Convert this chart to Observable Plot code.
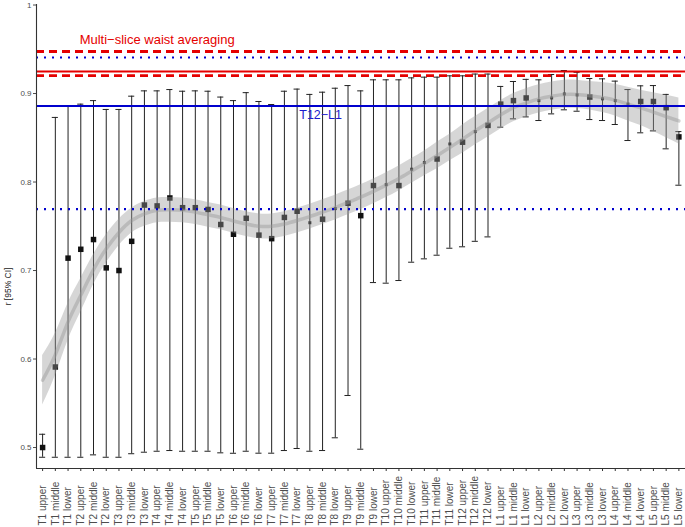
<!DOCTYPE html>
<html>
<head>
<meta charset="utf-8">
<script src="https://cdn.jsdelivr.net/npm/d3@7"></script>
<script src="https://cdn.jsdelivr.net/npm/@observablehq/plot@0.6"></script>
<style>
  html, body { margin: 0; padding: 0; background: #fff; }
</style>
</head>
<body>
<div id="chart"></div>
<script>
// ---- data ----
const levels = ["T1 upper","T1 middle","T1 lower","T2 upper","T2 middle","T2 lower","T3 upper","T3 middle","T3 lower",
  "T4 upper","T4 middle","T4 lower","T5 upper","T5 middle","T5 lower","T6 upper","T6 middle","T6 lower",
  "T7 upper","T7 middle","T7 lower","T8 upper","T8 middle","T8 lower","T9 upper","T9 middle","T9 lower",
  "T10 upper","T10 middle","T10 lower","T11 upper","T11 middle","T11 lower","T12 upper","T12 middle","T12 lower",
  "L1 upper","L1 middle","L1 lower","L2 upper","L2 middle","L2 lower","L3 upper","L3 middle","L3 lower",
  "L4 upper","L4 middle","L4 lower","L5 upper","L5 middle","L5 lower"];

const rValue = [0.500,0.591,0.714,0.724,0.735,0.703,0.700,0.733,0.774,
  0.773,0.782,0.771,0.771,0.769,0.752,0.741,0.759,0.740,
  0.736,0.760,0.767,0.754,0.758,0.770,0.776,0.762,0.796,
  0.797,0.796,0.8145,0.822,0.826,0.843,0.845,0.857,0.864,
  0.888,0.892,0.895,0.892,0.895,0.8995,0.8985,0.896,0.894,
  0.892,0.888,0.891,0.891,0.884,0.851];

const ciLower = [0.489,0.489,0.489,0.489,0.4917,0.489,0.489,0.493,0.4947,
  0.4958,0.4966,0.4958,0.4958,0.4958,0.494,0.4935,0.4958,0.4936,
  0.4936,0.4966,0.4989,0.4958,0.4966,0.511,0.5588,0.4981,0.6864,
  0.6857,0.6887,0.7094,0.7132,0.7173,0.7252,0.7268,0.733,0.738,
  0.862,0.8714,0.8736,0.8695,0.877,0.8816,0.880,0.8706,0.8695,
  0.865,0.8469,0.8556,0.8578,0.8375,0.7964];

const ciUpper = [0.515,0.873,0.886,0.888,0.892,0.882,0.882,0.897,0.903,
  0.903,0.9045,0.9026,0.903,0.9026,0.896,0.892,0.901,0.891,
  0.8876,0.9026,0.905,0.899,0.9015,0.906,0.909,0.903,0.9155,
  0.9155,0.9155,0.9177,0.9185,0.9185,0.920,0.920,0.922,0.922,
  0.908,0.9136,0.916,0.9155,0.9215,0.926,0.924,0.917,0.9166,
  0.914,0.9045,0.9087,0.909,0.899,0.857];

// 1 = full-size marker, 0 = small marker (as drawn in the reference)
const markerWeight = [1,1,1,1,1,1,1,1,1,
  1,1,1,1,1,1,1,1,1,
  1,1,1,0,1,0,1,1,1,
  0,1,0,0,1,0,1,0,1,
  1,1,1,0,0,0,0,1,0,
  0,0,1,1,1,1];

// loess smooth and its confidence half-width
const smoothFit = [0.576,0.605,0.642,0.672,0.701,0.7245,0.743,0.7565,0.764,
  0.768,0.7686,0.768,0.766,0.763,0.760,0.756,0.7525,0.750,
  0.750,0.7525,0.7565,0.761,0.766,0.7712,0.777,0.783,0.7895,
  0.7965,0.804,0.8125,0.821,0.830,0.839,0.8485,0.858,0.867,
  0.876,0.884,0.8895,0.894,0.897,0.899,0.899,0.8975,0.8955,
  0.8925,0.888,0.8838,0.879,0.874,0.869];
const smoothHalfWidth = [0.028,0.024,0.021,0.019,0.017,0.016,0.015,0.014,0.014,
  0.014,0.014,0.014,0.014,0.014,0.014,0.014,0.014,0.014,
  0.014,0.014,0.014,0.014,0.014,0.014,0.014,0.014,0.014,
  0.014,0.014,0.014,0.014,0.015,0.015,0.016,0.016,0.016,
  0.016,0.016,0.016,0.016,0.016,0.016,0.016,0.016,0.017,
  0.018,0.019,0.020,0.022,0.024,0.026];

// reference estimates
const multiSliceEstimate = 0.9249;
const multiSliceCI = [0.9203, 0.9475];
const t12l1Estimate = 0.886;
const t12l1CI = [0.7693, 0.9407];

const yTicks = [0.5, 0.6, 0.7, 0.8, 0.9, 1];
const annotations = [
  {x: 9, y: 0.9605, text: "Multi\u2212slice waist averaging", group: "multi"},
  {x: 21.85, y: 0.8763, text: "T12\u2212L1", group: "t12"}
];

// ---- build table ----
const rows = levels.map((label, i) => ({
  i, label, r: rValue[i], lo: ciLower[i], hi: ciUpper[i], w: markerWeight[i],
  fit: smoothFit[i], fitLo: smoothFit[i] - smoothHalfWidth[i], fitHi: smoothFit[i] + smoothHalfWidth[i]
}));

const xDomain = [-0.48, levels.length - 1 + 0.52];
const yDomain = [0.4763, 1.0006];
const RED = "#e50000";
const BLUE = "#0000cd";

const chart = Plot.plot({
  width: 685,
  height: 527,
  marginLeft: 36,
  marginRight: 0,
  marginTop: 4,
  marginBottom: 59,
  x: {domain: xDomain, axis: null},
  y: {domain: yDomain, axis: null},
  r: {type: "linear", domain: [0, 1], range: [1.7, 3.1]},
  style: {fontFamily: "'Liberation Sans', Arial, sans-serif", background: "#fff"},
  marks: [
    // error bars
    Plot.ruleX(rows, {x: "i", y1: "lo", y2: "hi", stroke: "#222", strokeWidth: 1}),
    Plot.ruleY(rows, {y: "hi", x1: d => d.i - 0.24, x2: d => d.i + 0.24, stroke: "#222", strokeWidth: 1}),
    Plot.ruleY(rows, {y: "lo", x1: d => d.i - 0.24, x2: d => d.i + 0.24, stroke: "#222", strokeWidth: 1}),
    // points
    Plot.dot(rows, {x: "i", y: "r", r: "w", symbol: "square", fill: "#111", stroke: "none"}),
    // smooth ribbon + line
    Plot.areaY(rows, {x: "i", y1: "fitLo", y2: "fitHi", fill: "#999", fillOpacity: 0.4, curve: "natural"}),
    Plot.lineY(rows, {x: "i", y: "fit", stroke: "#999", strokeOpacity: 0.45, strokeWidth: 3.5, curve: "natural"}),
    // reference lines
    Plot.ruleY(multiSliceCI, {stroke: RED, strokeWidth: 2.8, strokeDasharray: "8,5"}),
    Plot.ruleY([multiSliceEstimate], {stroke: RED, strokeWidth: 2}),
    Plot.ruleY(t12l1CI, {stroke: BLUE, strokeWidth: 2.2, strokeDasharray: "2,6"}),
    Plot.ruleY([t12l1Estimate], {stroke: BLUE, strokeWidth: 2}),
    // annotations
    Plot.text(annotations.filter(d => d.group === "multi"), {x: "x", y: "y", text: "text", fill: RED, fontSize: 13}),
    Plot.text(annotations.filter(d => d.group === "t12"), {x: "x", y: "y", text: "text", fill: "#1a1acd", fontSize: 12.5}),
    // axes
    Plot.ruleX([xDomain[0]], {stroke: "#333", strokeWidth: 1.1}),
    Plot.ruleY([yDomain[0]], {stroke: "#333", strokeWidth: 1.1}),
    Plot.axisY({ticks: yTicks, tickSize: 3, tickPadding: 2, tickFormat: d => String(d), fontSize: 8, color: "#4d4d4d", label: null}),
    Plot.axisX({ticks: d3.range(levels.length), tickSize: 3, tickFormat: () => "", color: "#333", label: null}),
    Plot.text(levels, {x: (d, i) => i, text: d => d, frameAnchor: "bottom", dy: 57, rotate: -90,
      textAnchor: "start", lineAnchor: "middle", fontSize: 10, fill: "#4d4d4d"}),
    Plot.text(["r [95% CI]"], {y: [0.682], text: d => d, frameAnchor: "left", dx: -28, rotate: -90,
      textAnchor: "middle", lineAnchor: "middle", fontSize: 8.5, fill: "#222"})
  ]
});
document.getElementById("chart").appendChild(chart);
</script>
</body>
</html>
